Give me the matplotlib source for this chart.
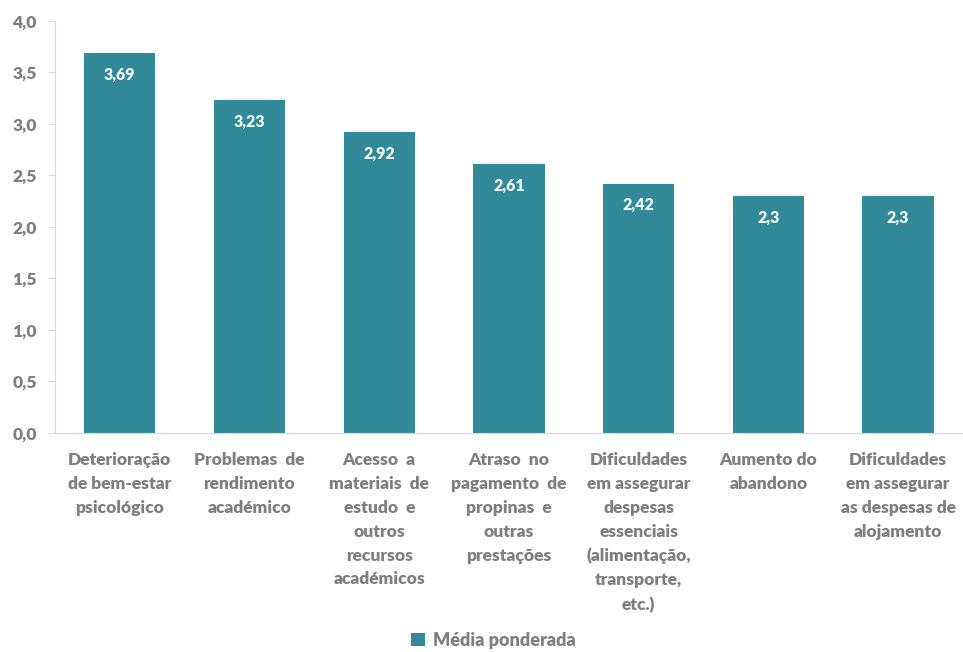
import matplotlib.pyplot as plt
import numpy as np

plt.rcParams['font.family'] = ['Lato', 'DejaVu Sans']

categorias = ['Deterioração\nde bem-estar\npsicológico',
              'Problemas  de\nrendimento\nacadémico',
              'Acesso  a\nmateriais  de\nestudo  e\noutros\nrecursos\nacadémicos',
              'Atraso  no\npagamento  de\npropinas  e\noutras\nprestações',
              'Dificuldades\nem assegurar\ndespesas\nessenciais\n(alimentação,\ntransporte,\netc.)',
              'Aumento do\nabandono',
              'Dificuldades\nem assegurar\nas despesas de\nalojamento']
valores = [3.69, 3.23, 2.92, 2.61, 2.42, 2.3, 2.3]
rotulos = ['3,69', '3,23', '2,92', '2,61', '2,42', '2,3', '2,3']
yticks = [0.0, 0.5, 1.0, 1.5, 2.0, 2.5, 3.0, 3.5, 4.0]

cor = '#31899A'
cinza = '#7F7F7F'
peso = 800

fig = plt.figure(figsize=(9.63, 6.52), dpi=100)
ax = fig.add_axes([0.057, 0.336, 0.943, 0.632])

x = np.arange(len(valores))
barras = ax.bar(x, valores, width=0.55, color=cor, label='Média ponderada')

for xi, v, r in zip(x, valores, rotulos):
    ax.text(xi, v - 0.13, r, ha='center', va='top', color='#EEF6F7',
            fontsize=11.5, fontweight=peso)

ax.set_xlim(-0.5, len(valores) - 0.5)
ax.set_ylim(0, 4.0)
ax.set_yticks(yticks)
ax.set_yticklabels([('%.1f' % t).replace('.', ',') for t in yticks],
                   fontsize=12.5, fontweight=peso, color=cinza)
ax.set_xticks(x)
ax.set_xticklabels(categorias, fontsize=12.5, fontweight=peso, color=cinza,
                   linespacing=1.6, va='top')
ax.tick_params(axis='x', length=0, pad=14)
ax.tick_params(axis='y', length=5, color='#D9D9D9', pad=8)

for s in ['top', 'right']:
    ax.spines[s].set_visible(False)
ax.spines['left'].set_color('#D9D9D9')
ax.spines['bottom'].set_color('#D9D9D9')

leg = fig.legend(handles=[barras], labels=['Média ponderada'], loc='center',
                 bbox_to_anchor=(0.512, 0.018), frameon=False,
                 handlelength=0.8, handleheight=0.8, handletextpad=0.4,
                 prop={'size': 13, 'weight': peso})
for t in leg.get_texts():
    t.set_color(cinza)

plt.savefig('out.png', dpi=100)
